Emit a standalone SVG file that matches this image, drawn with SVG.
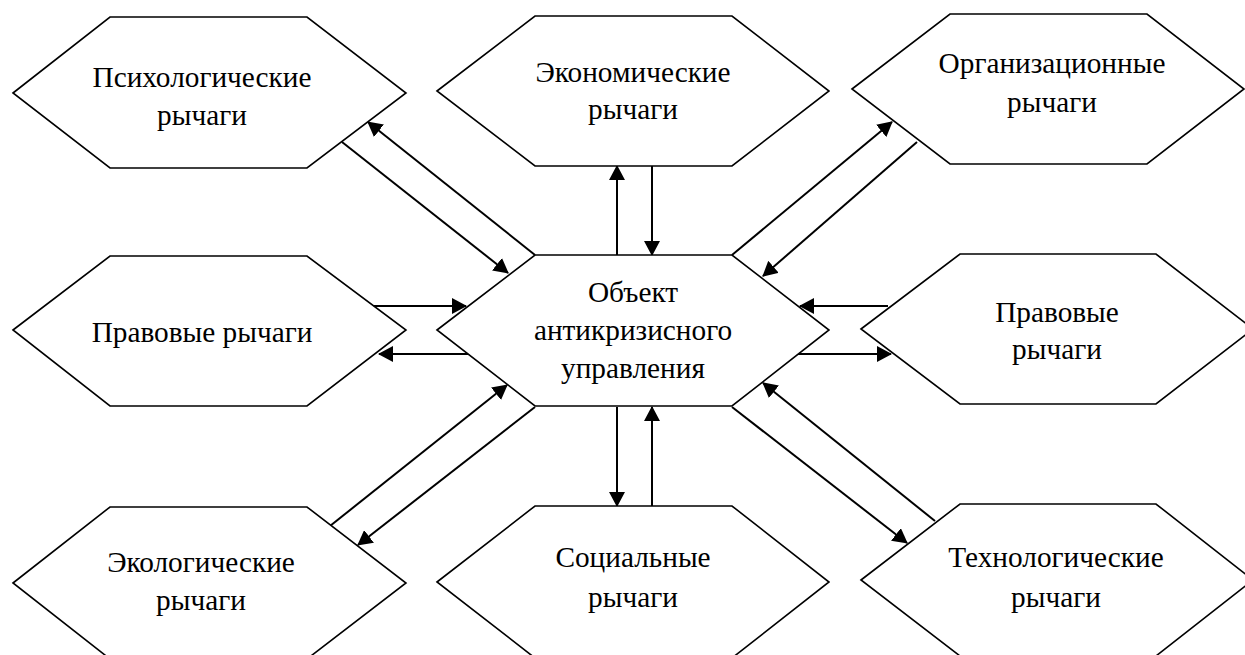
<svg xmlns="http://www.w3.org/2000/svg" width="1245" height="655" viewBox="0 0 1245 655">
<style>
.hex{fill:#fff;stroke:#000;stroke-width:1.6}
.lbl{font-family:'Liberation Serif','DejaVu Serif',serif;font-size:29.3px;fill:#000;text-anchor:middle}
.con{stroke:#000;stroke-width:2;fill:none}
.arr{marker-end:url(#ah)}
</style>
<defs>
<marker id="ah" markerUnits="userSpaceOnUse" viewBox="0 0 15 16" markerWidth="15" markerHeight="16" refX="14" refY="8" orient="auto">
<path d="M0,0 L15,8 L0,16 z" fill="#000"/>
</marker>
</defs>
<rect width="1245" height="655" fill="#fff"/>
<g id="connectors">
<line class="con arr" x1="342" y1="142" x2="508" y2="273"/>
<line class="con arr" x1="535" y1="255" x2="368" y2="122"/>
<line class="con arr" x1="617" y1="255" x2="617" y2="166"/>
<line class="con arr" x1="652" y1="166" x2="652" y2="255"/>
<line class="con arr" x1="732" y1="255" x2="892" y2="122"/>
<line class="con arr" x1="917" y1="142" x2="763" y2="276"/>
<line class="con arr" x1="373" y1="306" x2="466" y2="306"/>
<line class="con arr" x1="468" y1="354" x2="379" y2="354"/>
<line class="con arr" x1="888" y1="306" x2="800" y2="306"/>
<line class="con arr" x1="798" y1="354" x2="891" y2="354"/>
<line class="con arr" x1="330" y1="526" x2="507" y2="385"/>
<line class="con arr" x1="535" y1="407" x2="358" y2="545"/>
<line class="con arr" x1="617" y1="407" x2="617" y2="506"/>
<line class="con arr" x1="652" y1="506" x2="652" y2="407"/>
<line class="con arr" x1="935" y1="521" x2="763" y2="383"/>
<line class="con arr" x1="732" y1="407" x2="907" y2="543"/>
</g>
<g id="node-psych">
<polygon class="hex" points="13,93 110,17 307,17 406,93 307,168 110,168"/>
<text class="lbl" font-family="Liberation Serif, serif" x="202" y="87">Психологические</text>
<text class="lbl" font-family="Liberation Serif, serif" x="202" y="125">рычаги</text>
</g>
<g id="node-econ">
<polygon class="hex" points="437,91 535,16 732,16 829,91 732,166 535,166"/>
<text class="lbl" x="633" y="82">Экономические</text>
<text class="lbl" x="633" y="119">рычаги</text>
</g>
<g id="node-org">
<polygon class="hex" points="852,89 950,14 1147,14 1244,89 1147,164 950,164"/>
<text class="lbl" x="1052" y="73">Организационные</text>
<text class="lbl" x="1052" y="112">рычаги</text>
</g>
<g id="node-legal-left">
<polygon class="hex" points="13,330 110,256 307,256 406,330 307,406 110,406"/>
<text class="lbl" x="202" y="342">Правовые рычаги</text>
</g>
<g id="node-center">
<polygon class="hex" points="437,330 535,255 732,255 829,330 732,406 535,406"/>
<text class="lbl" x="633" y="302">Объект</text>
<text class="lbl" x="633" y="340">антикризисного</text>
<text class="lbl" x="633" y="378">управления</text>
</g>
<g id="node-legal-right">
<polygon class="hex" points="861,329 960,254 1156,254 1253,329 1156,404 960,404"/>
<text class="lbl" x="1057" y="322">Правовые</text>
<text class="lbl" x="1057" y="359">рычаги</text>
</g>
<g id="node-eco">
<polygon class="hex" points="13,583 110,507 307,507 406,583 307,659 110,659"/>
<text class="lbl" x="201" y="572">Экологические</text>
<text class="lbl" x="201" y="610">рычаги</text>
</g>
<g id="node-social">
<polygon class="hex" points="437,582 535,506 732,506 829,582 732,658 535,658"/>
<text class="lbl" x="633" y="567">Социальные</text>
<text class="lbl" x="633" y="607">рычаги</text>
</g>
<g id="node-tech">
<polygon class="hex" points="861,580 960,504 1156,504 1253,580 1156,656 960,656"/>
<text class="lbl" x="1056" y="567">Технологические</text>
<text class="lbl" x="1056" y="607">рычаги</text>
</g>
</svg>
